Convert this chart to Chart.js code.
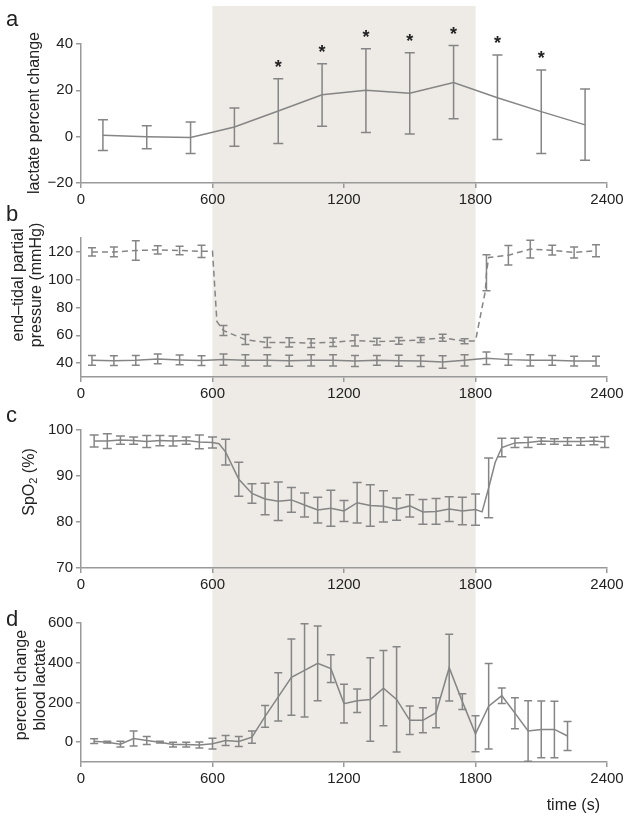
<!DOCTYPE html>
<html>
<head>
<meta charset="utf-8">
<script src="https://cdn.jsdelivr.net/npm/chart.js@4.4.1/dist/chart.umd.min.js"></script>
<style>
  body { margin: 0; background: #fff; }
  #fig { position: relative; width: 629px; height: 820px; font-family: "Liberation Sans", Arial, sans-serif; color: #222; }
  #fig canvas { position: absolute; left: 0; }
  .letter { position: absolute; left: 6px; font-size: 22px; line-height: 22px; }
  .ytitle { position: absolute; font-size: 16px; line-height: 18px; white-space: nowrap; text-align: center;
            transform: translate(-50%, -50%) rotate(-90deg); }
  .ytitle sub { font-size: 11px; line-height: 0; vertical-align: -3px; }
</style>
</head>
<body>
<div id="fig">
  <canvas id="chartA" width="629" height="214" style="top:0px"></canvas>
  <canvas id="chartB" width="629" height="202" style="top:214px"></canvas>
  <canvas id="chartC" width="629" height="188" style="top:416px"></canvas>
  <canvas id="chartD" width="629" height="216" style="top:604px"></canvas>

  <div class="letter" style="top:8px">a</div>
  <div class="letter" style="top:203px">b</div>
  <div class="letter" style="top:404px">c</div>
  <div class="letter" style="top:608px">d</div>

  <div class="ytitle" style="left:34px;top:113px">lactate percent change</div>
  <div class="ytitle" style="left:27px;top:285px">end–tidal partial<br>pressure (mmHg)</div>
  <div class="ytitle" style="left:29px;top:482px">SpO<sub>2</sub> (%)</div>
  <div class="ytitle" style="left:30px;top:685px;line-height:19px">percent change<br>blood lactate</div>
  <div style="position:absolute;right:29px;top:796px;font-size:16px">time (s)</div>
</div>

<script>
// shared x axis
const xTicks = [0, 600, 1200, 1800, 2400];
const hypoxia = [600, 1800];

// a: lactate percent change
const aTime = [100, 300, 500, 700, 900, 1100, 1300, 1500, 1700, 1900, 2100, 2300];
const aMean = [0.6, 0, -0.4, 4.2, 11.1, 18.1, 20, 18.7, 23.4, 16.8, 10.8, 5.1];
const aHigh = [7.3, 4.7, 6.3, 12.4, 25, 31.5, 38, 36.2, 39.3, 35.2, 28.8, 20.6];
const aLow = [-6, -5.2, -7.3, -4.1, -3, 4.5, 1.8, 1.2, 7.7, -1.2, -7.3, -10.2];
const aSig = [0, 0, 0, 0, 1, 1, 1, 1, 1, 1, 1, 0];
const aTicks = [-20, 0, 20, 40];

// b: end-tidal partial pressures (O2 dashed, CO2 solid)
const bO2Time = [50, 150, 250, 350, 450, 550, 600, 620, 650, 750, 850, 950, 1050, 1150, 1250, 1350,
                 1450, 1550, 1650, 1750, 1800, 1845, 1850, 1860, 1950, 2050, 2150, 2250, 2350];
const bO2 = [120, 120, 121, 121.5, 121, 120.4, 120.4, 70, 63.4, 56.9, 54.9, 54.9, 54.4, 55, 56.3, 55.4,
             56, 56.6, 58.3, 55.7, 56, 92, 105, 116, 117.6, 122, 121.2, 119.6, 120.8];
const bO2Err = [3, 3.5, 7, 3, 3, 4.4, null, null, 3.6, 3.6, 3.6, 3.4, 3.2, 3, 4, 2.4,
                2.5, 1.8, 2.5, 1.8, null, null, 13, null, 7, 6.3, 3.5, 4, 4.3];
const bTime = [50, 150, 250, 350, 450, 550, 650, 750, 850, 950, 1050, 1150,
               1250, 1350, 1450, 1550, 1650, 1750, 1850, 1950, 2050, 2150, 2250, 2350];
const bCO2 = [42, 41.7, 42, 43, 42.3, 41.8, 42.5, 42, 42, 41.7, 42, 42,
              41.5, 42, 41.7, 41.5, 40.8, 42, 43.5, 42.5, 42, 42, 41.5, 41.5];
const bCO2Err = [3.5, 3.5, 3.5, 3.5, 3.5, 3.5, 4, 4, 4, 4, 4, 4,
                 4, 3.5, 4, 4, 4.5, 4, 4.5, 4, 4, 3.5, 3.5, 3.5];
const bTicks = [40, 60, 80, 100, 120];

// c: SpO2
const cTime = [60, 120, 180, 240, 300, 360, 420, 480, 540, 600, 630, 660, 720, 780, 840, 900, 960, 1020,
               1080, 1140, 1200, 1260, 1320, 1380, 1440, 1500, 1560, 1620, 1680, 1740, 1800, 1830, 1860,
               1890, 1920, 1980, 2040, 2100, 2160, 2220, 2280, 2340, 2390];
const cSpO2 = [97.6, 97.6, 97.8, 97.7, 97.5, 97.7, 97.6, 97.7, 97.4, 97.3, 97.0, 95.2, 89.3, 86.2, 85.0, 84.5, 84.8, 83.7,
               82.6, 83.0, 82.4, 84.2, 83.6, 83.4, 82.8, 83.5, 82.2, 82.3, 82.8, 82.4, 82.7, 82.2, 87.4,
               93.0, 96.2, 97.2, 97.3, 97.6, 97.5, 97.5, 97.5, 97.6, 97.4];
const cErr = [1.3, 1.6, 0.9, 0.8, 1.3, 1.1, 1.1, 0.8, 1.5, 1.2, null, 2.8, 3.7, 2.1, 3.4, 4.2, 2.7, 2.6,
              2.8, 3.9, 2.3, 4.4, 4.5, 3.4, 2.4, 2.4, 2.7, 2.8, 2.7, 3.0, 3.4, null, 6.5,
              null, 2.0, 1.0, 1.1, 0.7, 0.6, 0.8, 0.8, 0.8, 1.2];
const cTicks = [70, 80, 90, 100];

// d: percent change blood lactate
const dTime = [60, 120, 180, 240, 300, 360, 420, 480, 540, 600, 660, 720, 780, 840, 900, 960, 1020, 1080, 1140,
               1200, 1260, 1320, 1380, 1440, 1500, 1560, 1620, 1680, 1740, 1800, 1860, 1920, 1980, 2040, 2100,
               2160, 2220];
const dLactate = [5, 0, -10, 18, 8, 0, -12, -12, -14, -8, 8, 3, 25, 130, 228, 327, 361, 397, 370,
                  194, 208, 215, 272, 215, 110, 110, 148, 375, 204, 42, 181, 234, 146, 56, 64,
                  64, 31];
const dErr = [12, 4, 15, 38, 20, 4, 12, 12, 15, 27, 25, 25, 31, 55, 122, 192, 235, 188, 70,
              98, 59, 210, 190, 265, 72, 63, 75, 168, 40, 91, 215, 39, 78, 152, 143,
              142, 73];
const dTicks = [0, 200, 400, 600];

const gray = '#858585';
const axisGray = '#9a9a9a';

Chart.defaults.font.family = '"Liberation Sans", Arial, sans-serif';
Chart.defaults.font.size = 15;
Chart.defaults.color = '#222';

const points = (xs, ys) => xs.map((t, i) => ({ x: t, y: ys[i] }));

// grey band for the hypoxic period, running through all panels
const shade = {
  id: 'shade',
  beforeDraw(chart, args, opts) {
    const x = chart.scales.x;
    const ctx = chart.ctx;
    const x0 = x.getPixelForValue(hypoxia[0]);
    const x1 = x.getPixelForValue(hypoxia[1]);
    const top = opts.top || 0;
    const bottom = opts.toAxis ? chart.chartArea.bottom : chart.height;
    ctx.save();
    ctx.fillStyle = '#eeeae6';
    ctx.fillRect(x0, top, x1 - x0, bottom - top);
    ctx.restore();
  }
};

const errorBars = {
  id: 'errorBars',
  afterDatasetsDraw(chart, args, opts) {
    const { ctx, scales: { x, y } } = chart;
    const cap = opts.cap || 4;
    chart.data.datasets.forEach(ds => {
      if (!ds.err && !ds.errHigh) return;
      ctx.save();
      ctx.setLineDash([]);
      ctx.strokeStyle = ds.borderColor;
      ctx.lineWidth = 1.5;
      ds.data.forEach((p, i) => {
        let lo, hi;
        if (ds.errHigh) {
          lo = ds.errLow[i];
          hi = ds.errHigh[i];
        } else {
          if (ds.err[i] == null) return;
          lo = p.y - ds.err[i];
          hi = p.y + ds.err[i];
        }
        const px = x.getPixelForValue(p.x);
        const pl = y.getPixelForValue(lo);
        const ph = y.getPixelForValue(hi);
        ctx.beginPath();
        ctx.moveTo(px, pl); ctx.lineTo(px, ph);
        ctx.moveTo(px - cap, pl); ctx.lineTo(px + cap, pl);
        ctx.moveTo(px - cap, ph); ctx.lineTo(px + cap, ph);
        ctx.stroke();
      });
      if (ds.sig) {
        ctx.fillStyle = '#222';
        ctx.font = 'bold 18px "Liberation Sans", Arial, sans-serif';
        ctx.textAlign = 'center';
        ctx.textBaseline = 'alphabetic';
        ds.data.forEach((p, i) => {
          if (!ds.sig[i]) return;
          const px = x.getPixelForValue(p.x);
          const ph = y.getPixelForValue(ds.errHigh[i]);
          ctx.fillText('*', px, ph - 6);
        });
      }
      ctx.restore();
    });
  }
};

function makeOptions(cfg) {
  const tickLabel = v => String(v).replace('-', '\u2212');
  return {
    responsive: false,
    animation: false,
    layout: { padding: { top: cfg.top, right: 22, bottom: 0, left: 0 } },
    elements: { point: { radius: 0 }, line: { tension: 0 } },
    plugins: {
      legend: { display: false },
      tooltip: { enabled: false },
      shade: { top: cfg.shadeTop || 0, toAxis: !!cfg.toAxis },
      errorBars: { cap: cfg.cap }
    },
    scales: {
      x: {
        type: 'linear',
        min: 0,
        max: 2400,
        afterBuildTicks: s => { s.ticks = xTicks.map(v => ({ value: v })); },
        afterFit: s => { s.height = cfg.xHeight; },
        ticks: { callback: tickLabel, padding: 3, maxRotation: 0 },
        grid: { drawOnChartArea: false, tickLength: 5, color: axisGray, lineWidth: 1.5 },
        border: { color: axisGray, width: 1.5 }
      },
      y: {
        min: cfg.yMin,
        max: cfg.yMax,
        afterBuildTicks: s => { s.ticks = cfg.yTicks.map(v => ({ value: v })); },
        afterFit: s => { s.width = 81; },
        ticks: { callback: tickLabel, padding: 3 },
        grid: { drawOnChartArea: false, tickLength: 5, color: axisGray, lineWidth: 1.5 },
        border: { color: axisGray, width: 1.5 }
      }
    }
  };
}

new Chart(document.getElementById('chartA'), {
  type: 'line',
  data: {
    datasets: [{
      data: points(aTime, aMean),
      errHigh: aHigh,
      errLow: aLow,
      sig: aSig,
      borderColor: gray,
      borderWidth: 1.5
    }]
  },
  options: makeOptions({ top: 44, xHeight: 31, yMin: -20, yMax: 40, yTicks: aTicks, cap: 5, shadeTop: 6 }),
  plugins: [shade, errorBars]
});

new Chart(document.getElementById('chartB'), {
  type: 'line',
  data: {
    datasets: [{
      data: points(bO2Time, bO2),
      err: bO2Err,
      borderColor: gray,
      borderWidth: 1.5,
      borderDash: [6, 4]
    }, {
      data: points(bTime, bCO2),
      err: bCO2Err,
      borderColor: gray,
      borderWidth: 1.5
    }]
  },
  options: makeOptions({ top: 24, xHeight: 39, yMin: 30, yMax: 130, yTicks: bTicks, cap: 4 }),
  plugins: [shade, errorBars]
});

new Chart(document.getElementById('chartC'), {
  type: 'line',
  data: {
    datasets: [{
      data: points(cTime, cSpO2),
      err: cErr,
      borderColor: gray,
      borderWidth: 1.5
    }]
  },
  options: makeOptions({ top: 14, xHeight: 36, yMin: 70, yMax: 100, yTicks: cTicks, cap: 4.5 }),
  plugins: [shade, errorBars]
});

new Chart(document.getElementById('chartD'), {
  type: 'line',
  data: {
    datasets: [{
      data: points(dTime, dLactate),
      err: dErr,
      borderColor: gray,
      borderWidth: 1.5
    }]
  },
  options: makeOptions({ top: 19, xHeight: 58, yMin: -100, yMax: 600, yTicks: dTicks, cap: 4, toAxis: true }),
  plugins: [shade, errorBars]
});
</script>
</body>
</html>
